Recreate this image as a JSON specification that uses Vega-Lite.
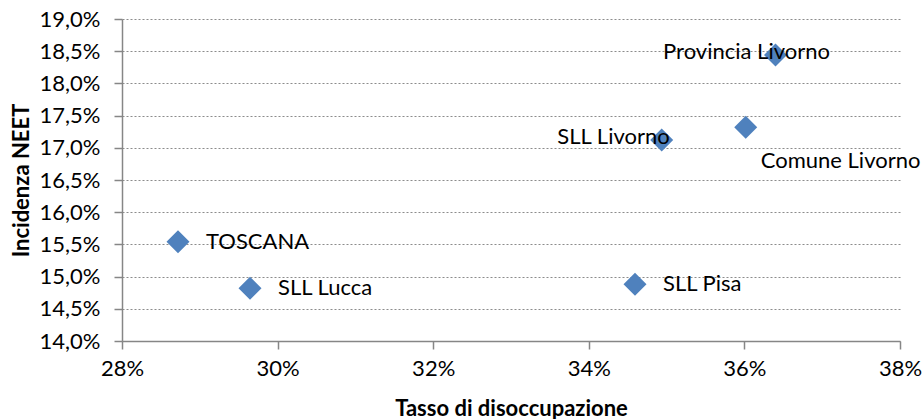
{
  "$schema": "https://vega.github.io/schema/vega-lite/v6.json",
  "autosize": "none",
  "width": 778,
  "height": 322,
  "padding": {"left": 122, "top": 19, "right": 22, "bottom": 78},
  "background": "white",
  "config": {
    "locale": {"number": {"decimal": ",", "thousands": ".", "grouping": [3], "currency": ["€", ""]}},
    "view": {"stroke": null},
    "font": "Lato",
    "axis": {
      "labelFont": "Lato", "labelFontSize": 22, "labelColor": "#000000", "labelFlush": false,
      "titleFont": "Lato", "titleFontSize": 22, "titleFontWeight": "bold", "titleColor": "#000000",
      "domainColor": "#868686", "domainWidth": 1.5, "tickColor": "#868686", "tickWidth": 1.5, "tickSize": 8
    }
  },
  "data": {
    "values": [
      {"area": "TOSCANA", "disocc": 0.2872, "neet": 0.1554, "pos": "right"},
      {"area": "SLL Lucca", "disocc": 0.29645, "neet": 0.1482, "pos": "right"},
      {"area": "SLL Pisa", "disocc": 0.34594, "neet": 0.1488, "pos": "right"},
      {"area": "SLL Livorno", "disocc": 0.34937, "neet": 0.1712, "pos": "left"},
      {"area": "Comune Livorno", "disocc": 0.36017, "neet": 0.1732, "pos": "below"},
      {"area": "Provincia Livorno", "disocc": 0.364, "neet": 0.1844, "pos": "center"}
    ]
  },
  "encoding": {
    "x": {
      "field": "disocc", "type": "quantitative",
      "scale": {"domain": [0.28, 0.38], "nice": false, "zero": false},
      "axis": {"title": "Tasso di disoccupazione", "format": ".0%", "values": [0.28, 0.30, 0.32, 0.34, 0.36, 0.38], "grid": false, "labelPadding": 9, "titlePadding": 19}
    },
    "y": {
      "field": "neet", "type": "quantitative",
      "scale": {"domain": [0.14, 0.19], "nice": false, "zero": false},
      "axis": {"title": "Incidenza NEET", "format": ".1%", "values": [0.14, 0.145, 0.15, 0.155, 0.16, 0.165, 0.17, 0.175, 0.18, 0.185, 0.19], "grid": true, "gridColor": "#8c8c8c", "gridDash": [2, 2], "gridWidth": 1.2, "labelPadding": 14, "titlePadding": 6}
    }
  },
  "layer": [
    {"mark": {"type": "point", "shape": "diamond", "filled": true, "size": 529, "color": "#4F81BD", "opacity": 1}},
    {"transform": [{"filter": "datum.pos == 'right'"}], "mark": {"type": "text", "align": "left", "baseline": "middle", "dx": 28, "fontSize": 22, "font": "Lato", "color": "#000000"}, "encoding": {"text": {"field": "area"}}},
    {"transform": [{"filter": "datum.pos == 'left'"}], "mark": {"type": "text", "align": "right", "baseline": "middle", "dx": 8, "dy": -3, "fontSize": 22, "font": "Lato", "color": "#000000"}, "encoding": {"text": {"field": "area"}}},
    {"transform": [{"filter": "datum.pos == 'below'"}], "mark": {"type": "text", "align": "left", "baseline": "middle", "dx": 15, "dy": 34, "fontSize": 22, "font": "Lato", "color": "#000000"}, "encoding": {"text": {"field": "area"}}},
    {"transform": [{"filter": "datum.pos == 'center'"}], "mark": {"type": "text", "align": "center", "baseline": "middle", "dx": -29, "dy": -3, "fontSize": 22, "font": "Lato", "color": "#000000"}, "encoding": {"text": {"field": "area"}}}
  ]
}
